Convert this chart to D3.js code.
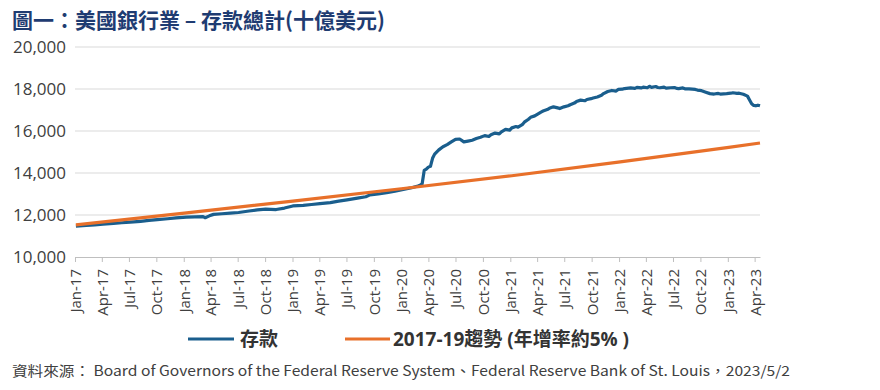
<!DOCTYPE html>
<html><head><meta charset="utf-8">
<script src="https://cdn.jsdelivr.net/npm/d3@7"></script>
<style>
html,body{margin:0;padding:0;background:#fff;}
svg{display:block;font-family:"Open Sans","Noto Sans CJK TC",sans-serif;}
</style></head>
<body>
<svg id="chart" width="880" height="390"></svg>
<script>
const title = "圖一：美國銀行業 – 存款總計(十億美元)";
const source = "資料來源： Board of Governors of the Federal Reserve System、Federal Reserve Bank of St. Louis，2023/5/2";
const seriesNames = ["存款", "2017-19趨勢 (年增率約5% )"];
const yTicks = [10000, 12000, 14000, 16000, 18000, 20000];

const depositDates = [
"2017-01-04","2017-02-08","2017-03-08","2017-04-05","2017-05-10","2017-06-07","2017-07-05","2017-08-09","2017-09-06","2017-10-04","2017-11-08","2017-12-06",
"2018-01-10","2018-02-07","2018-03-07","2018-03-14","2018-03-28","2018-04-11","2018-05-09","2018-06-06","2018-07-04","2018-08-08","2018-09-05","2018-10-03","2018-11-07","2018-12-05",
"2019-01-02","2019-02-06","2019-03-06","2019-04-03","2019-05-08","2019-06-05","2019-07-03","2019-08-07","2019-09-04","2019-09-18","2019-10-16","2019-11-13","2019-12-11",
"2020-01-08","2020-02-05","2020-02-26","2020-03-04","2020-03-11","2020-03-18","2020-03-25","2020-04-01","2020-04-08","2020-04-15","2020-04-22","2020-05-06","2020-05-20","2020-06-03","2020-06-17","2020-07-01","2020-07-15","2020-07-29","2020-08-12","2020-08-26","2020-09-09","2020-09-23","2020-10-07","2020-10-21","2020-10-28","2020-11-11","2020-11-25","2020-12-02","2020-12-16","2020-12-30",
"2021-01-06","2021-01-20","2021-01-27","2021-02-10","2021-02-17","2021-03-03","2021-03-10","2021-03-24","2021-03-31","2021-04-14","2021-04-21","2021-05-05","2021-05-12","2021-05-26","2021-06-09","2021-06-16","2021-06-30","2021-07-14","2021-07-21","2021-08-04","2021-08-11","2021-08-25","2021-09-08","2021-09-15","2021-09-29","2021-10-06","2021-10-20","2021-11-03","2021-11-10","2021-11-24","2021-12-08","2021-12-22","2021-12-29",
"2022-01-12","2022-01-19","2022-02-09","2022-02-23","2022-03-02","2022-03-16","2022-03-23","2022-04-06","2022-04-13","2022-04-20","2022-05-04","2022-05-11","2022-05-18","2022-06-01","2022-06-08","2022-06-22","2022-07-06","2022-07-13","2022-07-20","2022-08-03","2022-08-10","2022-08-24","2022-09-14","2022-09-21","2022-10-05","2022-10-19","2022-11-02","2022-11-16","2022-11-30","2022-12-07","2022-12-28",
"2023-01-11","2023-01-18","2023-02-01","2023-02-08","2023-02-22","2023-03-08","2023-03-15","2023-03-22","2023-03-29","2023-04-05","2023-04-12","2023-04-19"];
const depositValues = [
11470,11500,11530,11560,11600,11630,11660,11700,11740,11780,11820,11860,
11900,11910,11920,11870,11960,12030,12060,12090,12120,12190,12240,12280,12260,12330,
12430,12460,12500,12540,12590,12660,12720,12800,12870,12960,13000,13060,13140,
13220,13300,13380,13420,13480,14120,14180,14280,14320,14700,14900,15100,15250,15350,15480,15600,15620,15480,15520,15560,15640,15700,15780,15740,15820,15900,15860,15960,16080,16040,
16150,16210,16180,16300,16420,16560,16650,16720,16780,16900,16950,17020,17080,17150,17100,17070,17150,17200,17250,17330,17400,17470,17440,17500,17540,17570,17620,17700,17780,17880,17930,17900,17980,
17990,18020,18050,18030,18080,18050,18090,18060,18130,18080,18120,18070,18060,18090,18040,18060,18070,18030,18020,18050,18010,18010,17980,17950,17920,17850,17780,17760,17790,17760,17780,
17800,17820,17790,17800,17750,17660,17480,17300,17220,17200,17230,17200];

const trendDates = ["2017-01-04","2018-01-03","2019-01-02","2020-01-01","2021-01-06","2022-01-05","2023-01-04","2023-04-19"];
const trendValues = [11530,12090,12660,13250,13870,14530,15220,15430];

const parse = d3.timeParse("%Y-%m-%d");
const svg = d3.select("#chart");

const x = d3.scaleTime().domain([parse("2017-01-01"), parse("2023-04-19")]).range([75, 760]);
const y = d3.scaleLinear().domain([10000, 20000]).range([257, 47]);

// title
svg.append("text").attr("x", 12).attr("y", 28)
  .attr("font-family", "'Noto Sans CJK TC','Noto Sans',sans-serif")
  .attr("font-size", 21).attr("font-weight", "bold").attr("fill", "#1f3c72")
  .text(title);

// gridlines
svg.append("g").selectAll("line").data(yTicks.filter(d => d > 10000)).join("line")
  .attr("x1", 75).attr("x2", 760).attr("y1", d => y(d)).attr("y2", d => y(d))
  .attr("stroke", "#d9d9d9").attr("stroke-width", 1);

// y labels
svg.append("g").selectAll("text").data(yTicks).join("text")
  .attr("x", 66).attr("y", d => y(d)).attr("dy", "0.36em")
  .attr("text-anchor", "end").attr("font-size", 17).attr("fill", "#404040")
  .text(d3.format(","));

// x axis
const qTicks = d3.timeMonth.every(3).range(parse("2017-01-01"), parse("2023-04-02"));
const xAxis = d3.axisBottom(x).tickValues(qTicks).tickFormat(d3.timeFormat("%b-%y")).tickSize(5).tickSizeOuter(0);
const gx = svg.append("g").attr("transform", "translate(0,257)").call(xAxis);
gx.select(".domain").attr("stroke", "#bfbfbf");
gx.selectAll(".tick line").attr("stroke", "#bfbfbf");
gx.selectAll(".tick text")
  .attr("font-family", "'Open Sans',sans-serif")
  .attr("font-size", 15).attr("fill", "#404040")
  .attr("transform", "rotate(-90)")
  .attr("text-anchor", "end").attr("x", -12).attr("y", 0).attr("dy", "0.36em");

// lines
const line = d3.line().x(d => x(d[0])).y(d => y(d[1])).curve(d3.curveLinear);
const dep = depositDates.map((d, i) => [parse(d), depositValues[i]]);
const tr = trendDates.map((d, i) => [parse(d), trendValues[i]]);
svg.append("path").datum(dep).attr("d", line).attr("fill", "none")
  .attr("stroke", "#1a5e8d").attr("stroke-width", 3.2).attr("stroke-linejoin", "round");
svg.append("path").datum(tr).attr("d", line).attr("fill", "none")
  .attr("stroke", "#e8702a").attr("stroke-width", 3.2);

// legend
const lg = svg.append("g").attr("font-family", "'Open Sans','Noto Sans CJK TC',sans-serif")
  .attr("font-size", 19).attr("font-weight", "bold").attr("fill", "#333");
lg.append("line").attr("x1", 188).attr("x2", 234).attr("y1", 339).attr("y2", 339).attr("stroke", "#1a5e8d").attr("stroke-width", 3);
lg.append("text").attr("x", 240).attr("y", 346).text(seriesNames[0]);
lg.append("line").attr("x1", 345).attr("x2", 390).attr("y1", 339).attr("y2", 339).attr("stroke", "#e8702a").attr("stroke-width", 3);
lg.append("text").attr("x", 393).attr("y", 346).text(seriesNames[1]);

// source
svg.append("text").attr("x", 12).attr("y", 376)
  .attr("font-family", "'Noto Sans CJK TC','Liberation Sans Narrow',sans-serif")
  .attr("font-size", 14).attr("fill", "#404040")
  .attr("textLength", 778).attr("lengthAdjust", "spacingAndGlyphs")
  .text(source);
</script>
</body></html>
